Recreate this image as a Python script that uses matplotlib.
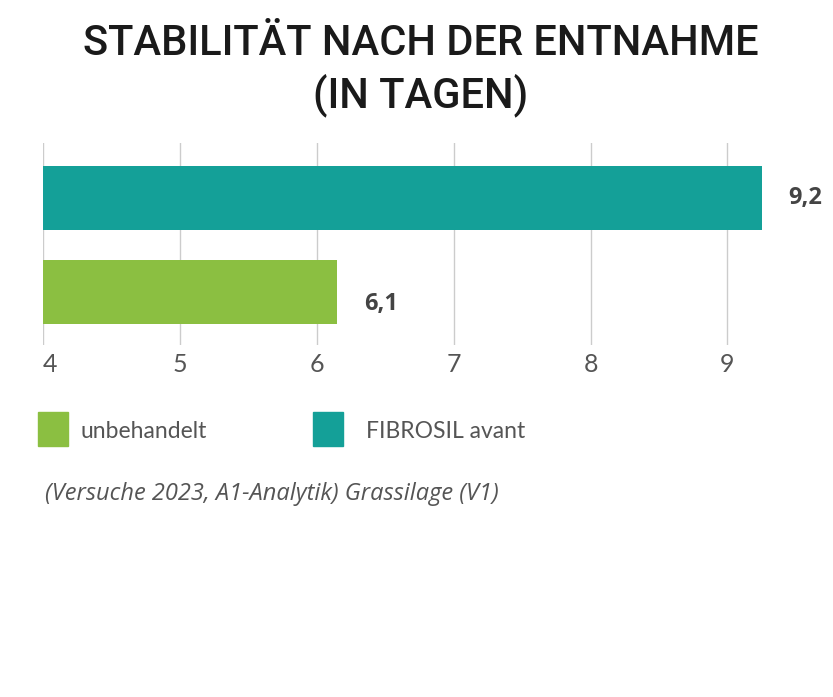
import matplotlib.pyplot as plt
from matplotlib.patches import Rectangle

# Data: days of aerobic stability after opening
categories = ["unbehandelt", "FIBROSIL avant"]
values = [6.15, 9.25]
value_labels = ["6,1", "9,2"]
colors = ["#8BBF41", "#14A098"]
ticks = [4, 5, 6, 7, 8, 9]

title = "STABILITÄT NACH DER ENTNAHME\n(IN TAGEN)"
footnote = "(Versuche 2023, A1-Analytik) Grassilage (V1)"

fig = plt.figure(figsize=(8.33, 6.97), dpi=100)
ax = fig.add_axes([0.0516, 0.505, 0.871, 0.29])

ypos = list(range(len(categories)))
ax.barh(ypos, [v - 4 for v in values], left=4, height=0.677, color=colors, zorder=2)

# the lower label sits a bit below its bar centre in the original
label_shift = [-0.12, 0.0]
for y, v, lab, dy in zip(ypos, values, value_labels, label_shift):
    ax.annotate(lab, (v, y + dy), xytext=(19, 0), textcoords="offset points",
                va="center", ha="left", fontsize=17, fontweight="bold",
                color="#444444", family="Open Sans")

ax.set_xlim(4, 9.3)
ax.set_ylim(-0.556, 1.582)
ax.set_xticks(ticks)
ax.set_xticklabels([str(t) for t in ticks], fontsize=18, color="#555555", family="Lato")
ax.get_xticklabels()[0].set_horizontalalignment("left")
ax.set_yticks([])
ax.grid(axis="x", color="#cccccc", linewidth=1, zorder=0)
for s in ax.spines.values():
    s.set_visible(False)
ax.tick_params(axis="x", length=0, pad=6)

fig.text(0.505, 0.967, title, ha="center", va="top", fontsize=30, color="#1a1a1a",
         family="Roboto", fontweight="medium", linespacing=1.27)

# legend
fig.add_artist(Rectangle((38 / 833, 1 - 446 / 697), 30 / 833, 34 / 697,
                         transform=fig.transFigure, color=colors[0]))
fig.add_artist(Rectangle((313 / 833, 1 - 446 / 697), 30 / 833, 34 / 697,
                         transform=fig.transFigure, color=colors[1]))
fig.text(80 / 833, 1 - 431 / 697, categories[0], va="center", ha="left",
         fontsize=16.5, color="#555555", family="Lato")
fig.text(366 / 833, 1 - 431 / 697, categories[1], va="center", ha="left",
         fontsize=16.5, color="#555555", family="Lato")

fig.text(45 / 833, 1 - 494 / 697, footnote, va="center", ha="left",
         fontsize=17, color="#555555", family="Open Sans", style="italic")

fig.savefig("out.png", dpi=100, facecolor="white")
